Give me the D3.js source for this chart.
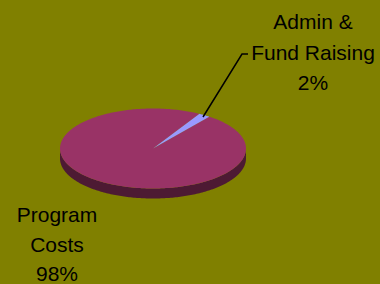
<!DOCTYPE html>
<html><head><meta charset="utf-8">
<script src="https://cdn.jsdelivr.net/npm/d3@7"></script>
<style>html,body{margin:0;padding:0;background:#808000;}svg{display:block;}</style>
</head><body>
<svg id="c" width="380" height="284"></svg>
<script>
const categories = ["Program Costs", "Admin & Fund Raising"];
const values = [98, 2];
const labels = [["Program", "Costs", "98%"], ["Admin &", "Fund Raising", "2%"]];
const colors = ["#993366", "#9999FF"];
const sideColors = ["#4d1a33", "#4d4d80"];

const svg = d3.select("#c");
const cx = 153, cy = 148.5, rx = 93, ry = 40, depth = 10;
const deg = Math.PI / 180;
const pie = d3.pie().sort(null).startAngle(37.2 * deg).endAngle(37.2 * deg + 2 * Math.PI);
const arcs = pie(values);

const pt = (a, dy = 0) => [cx + rx * Math.sin(a), cy - ry * Math.cos(a) + dy];

function topPath(d) {
  const n = Math.max(4, Math.ceil((d.endAngle - d.startAngle) / (1 * deg)));
  const pts = [[cx, cy]];
  for (let i = 0; i <= n; i++) pts.push(pt(d.startAngle + (d.endAngle - d.startAngle) * i / n));
  return "M" + pts.map(p => p.join(",")).join("L") + "Z";
}
function sidePaths(d) {
  const res = [];
  for (let k = -1; k <= 2; k++) {
    const lo = Math.max(d.startAngle, (90 + 360 * k) * deg);
    const hi = Math.min(d.endAngle, (270 + 360 * k) * deg);
    if (hi > lo) {
      const n = Math.max(4, Math.ceil((hi - lo) / (1 * deg)));
      const a = [], b = [];
      for (let i = 0; i <= n; i++) {
        const t = lo + (hi - lo) * i / n;
        a.push(pt(t)); b.push(pt(t, depth));
      }
      res.push("M" + a.concat(b.reverse()).map(p => p.join(",")).join("L") + "Z");
    }
  }
  return res;
}

arcs.forEach((d, i) => {
  sidePaths(d).forEach(p => svg.append("path").attr("d", p).attr("fill", sideColors[i]));
});
arcs.forEach((d, i) => {
  svg.append("path").attr("d", topPath(d)).attr("fill", colors[i]);
});

svg.append("polyline")
  .attr("points", "203,117 242,54 248,54")
  .attr("fill", "none").attr("stroke", "#000").attr("stroke-width", 1.5);

const font = "'Liberation Sans', Arial, sans-serif";
function lbl(lines, x, y0, step) {
  const t = svg.append("text").attr("text-anchor", "middle")
    .attr("font-family", font).attr("font-size", 21).attr("fill", "#000");
  lines.forEach((s, j) => t.append("tspan").attr("x", x).attr("y", y0 + j * step).text(s));
}
lbl(labels[1], 313, 29, 30.5);
lbl(labels[0], 57, 222, 29.5);
</script>
</body></html>
